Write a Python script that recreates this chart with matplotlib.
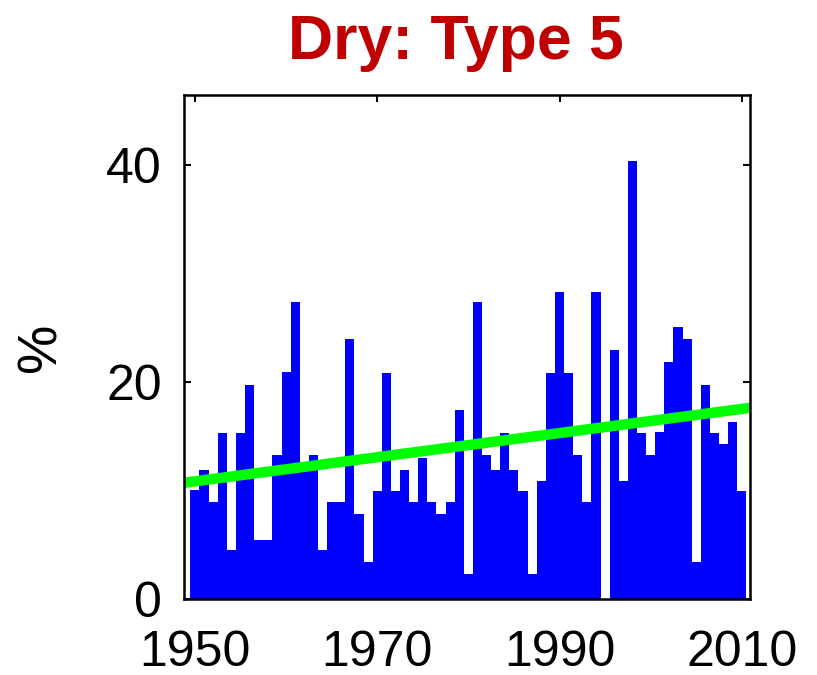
import numpy as np
import matplotlib
matplotlib.use('Agg')
import matplotlib.pyplot as plt

plt.rcParams['font.family'] = ['Liberation Sans', 'DejaVu Sans']

######------------------ Data
years = np.arange(1950, 2011)
dry_pct = [10.0, 11.9, 8.9, 15.3, 4.5, 15.3, 19.7, 5.4, 5.4, 13.3,
           20.9, 27.3, 12.3, 13.3, 4.5, 8.9, 8.9, 23.9, 7.8, 3.4,
           9.9, 20.8, 9.9, 11.9, 8.9, 13.0, 8.9, 7.8, 8.9, 17.4,
           2.3, 27.3, 13.3, 11.9, 15.3, 11.9, 9.9, 2.3, 10.9, 20.8,
           28.3, 20.8, 13.3, 8.9, 28.3, 0.0, 22.9, 10.9, 40.3, 15.3,
           13.3, 15.4, 21.8, 25.0, 23.9, 3.4, 19.7, 15.3, 14.3, 16.3,
           9.9]
trend_x = [1948.8, 2010.9]
trend_y = [10.7, 17.6]
xtick_vals = [1950, 1970, 1990, 2010]
ytick_vals = [0, 20, 40]

TITLE = 'Dry: Type 5'
YLABEL = '%'

######------------------ Figure settings
FONTSIZE = 36
TITLESIZE = 45
BAR_COLOR = '#0000FF'
TREND_COLOR = '#00FF00'
TITLE_COLOR = '#C00000'

fig = plt.figure(figsize=(8.17, 6.75), dpi=100)
ax = fig.add_axes([184/817, 1-599/675, (750-184)/817, (599-95)/675])

ax.bar(years, dry_pct, width=1.0, color=BAR_COLOR,
       edgecolor='none', linewidth=0, antialiased=False, zorder=2)
ax.plot(trend_x, trend_y, color=TREND_COLOR, linewidth=7.5,
        solid_capstyle='butt', zorder=3)

ax.set_xlim(1948.8, 2010.9)
ax.set_ylim(0, 46.4)
ax.set_xticks(xtick_vals)
ax.set_yticks(ytick_vals)
ax.tick_params(axis='both', direction='in', length=5, width=1.5,
               labelsize=FONTSIZE, top=True, right=True)
ax.tick_params(axis='x', pad=22)
ax.tick_params(axis='y', pad=16)
for sp in ax.spines.values():
    sp.set_linewidth(1.8)
    sp.set_zorder(4)

ax.set_ylabel(YLABEL, fontsize=40)
ax.yaxis.set_label_coords(-0.205, 0.5)
ax.set_title(TITLE, fontsize=TITLESIZE, fontweight='bold',
             color=TITLE_COLOR, pad=26, x=0.48)

fig.savefig('out.png', dpi=100)
